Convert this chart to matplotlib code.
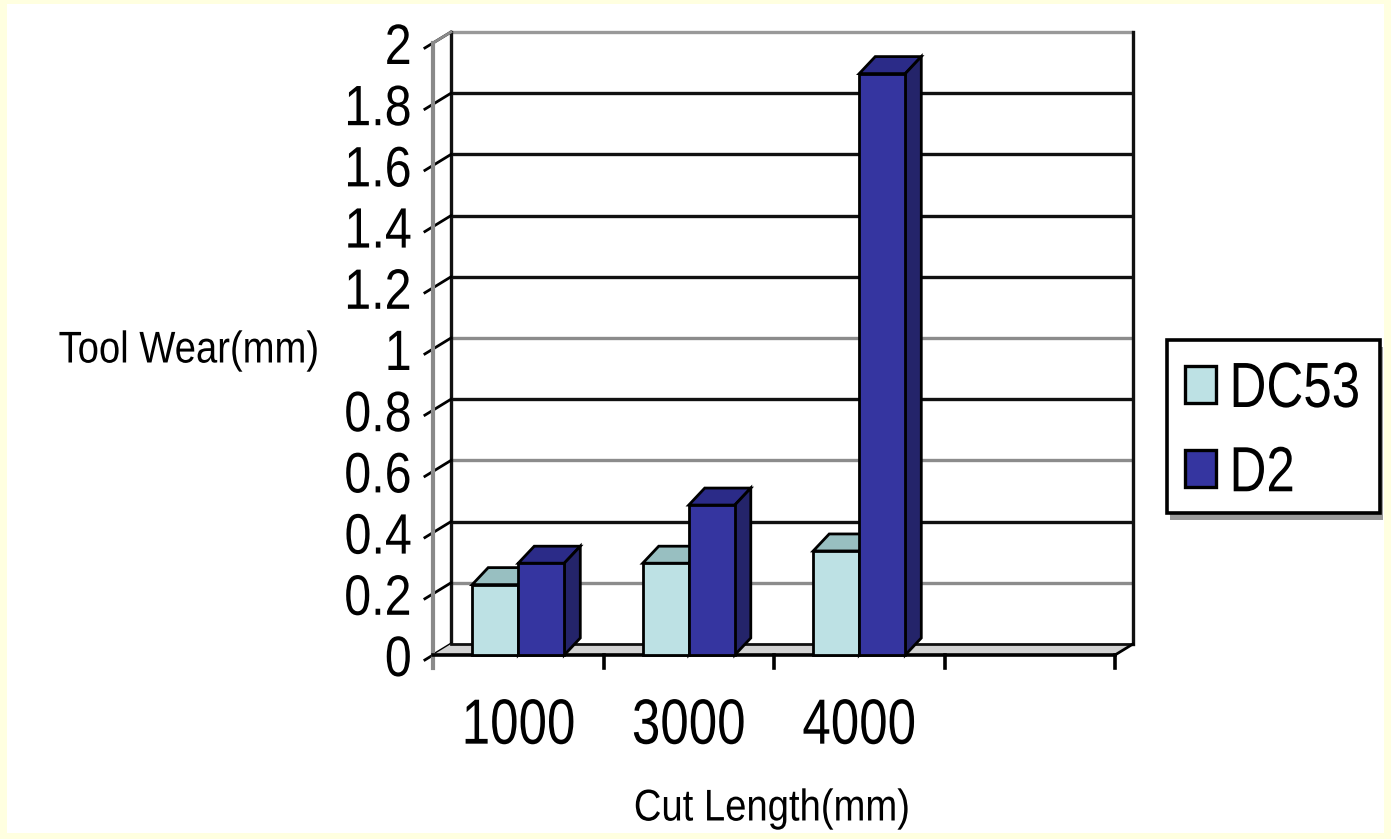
import matplotlib
matplotlib.use("Agg")
import matplotlib.pyplot as plt
from matplotlib.patches import Polygon, Rectangle, Patch
from matplotlib.patheffects import AbstractPathEffect
from matplotlib.transforms import Affine2D
import numpy as np

# data
categories = ["1000", "3000", "4000"]
series_names = ["DC53", "D2"]
dc53_wear = [0.23, 0.30, 0.34]
d2_wear = [0.30, 0.49, 1.90]
y_ticks = [0, 0.2, 0.4, 0.6, 0.8, 1.0, 1.2, 1.4, 1.6, 1.8, 2.0]
y_tick_labels = ["0", "0.2", "0.4", "0.6", "0.8", "1", "1.2", "1.4", "1.6", "1.8", "2"]

# look of the old Excel 3-D column chart
n_slots = 4  # the category axis has an empty fourth slot
grid_colors = ["#8c8c8c", "#111111", "#8c8c8c", "#111111", "#8c8c8c",
               "#111111", "#111111", "#111111", "#111111", "#999999"]
faces = {
    "DC53": ("#bde1e4", "#98bfc1", "#6a9193"),   # front, top, side
    "D2": ("#3535a0", "#2b2b88", "#24246a"),
}

plt.rcParams["font.family"] = ["Liberation Sans", "DejaVu Sans"]


class Squeeze(AbstractPathEffect):
    """Draw text narrower (the reference uses a condensed face)."""

    def __init__(self, sx, anchor="center"):
        super().__init__()
        self._sx = sx
        self._anchor = anchor

    def draw_path(self, renderer, gc, tpath, affine, rgbFace=None):
        ext = tpath.transformed(affine).get_extents()
        x0 = {"left": ext.x0, "right": ext.x1, "center": 0.5 * (ext.x0 + ext.x1)}[self._anchor]
        squeeze = Affine2D().translate(-x0, 0).scale(self._sx, 1).translate(x0, 0)
        renderer.draw_path(gc, tpath, affine + squeeze, rgbFace)


W, H = 1391, 839
fig = plt.figure(figsize=(W / 100, H / 100), dpi=100, facecolor="#ffffe0")
fig.patches.append(Rectangle((7 / W, 6 / H), 1 - 14 / W, 1 - 10 / H, transform=fig.transFigure,
                             facecolor="white", edgecolor="none", zorder=-1))


def fx(px):
    return px / W


def fy(py):
    return 1 - py / H


# axes = front plane of the 3-D box
left, right, bottom, top = 433, 1115, 655, 43
ax = fig.add_axes([left / W, 1 - bottom / H, (right - left) / W, (bottom - top) / H])
ax.set_xlim(0, n_slots)
ax.set_ylim(0, 2)
ax.set_facecolor("none")
for s in ax.spines.values():
    s.set_visible(False)

px_x = (right - left) / n_slots
px_y = (bottom - top) / 2.0
wall_dx, wall_dy = 18 / px_x, 11 / px_y   # depth of the box
bar_dx, bar_dy = 16 / px_x, 17 / px_y     # depth of a column
drop = 13 / px_y

# back wall with gridlines
ax.add_patch(Rectangle((wall_dx, wall_dy), n_slots, 2, facecolor="white", edgecolor="none",
                       clip_on=False, zorder=1))
for v, c in zip(y_ticks[1:], grid_colors):
    ax.plot([wall_dx, n_slots + wall_dx], [v + wall_dy] * 2, color=c, lw=2.4,
            clip_on=False, zorder=2, solid_capstyle="butt")
ax.plot([wall_dx, wall_dx], [wall_dy, 2 + wall_dy], color="#111111", lw=2.4, clip_on=False, zorder=2)
ax.plot([n_slots + wall_dx] * 2, [wall_dy, 2 + wall_dy], color="#111111", lw=2.4, clip_on=False, zorder=2)

# side wall gridlines / ticks
for v in y_ticks:
    ax.plot([-0.45 * wall_dx, wall_dx], [v - 0.45 * wall_dy, v + wall_dy], color="black", lw=2.0,
            clip_on=False, zorder=2)
ax.plot([0, 0], [-drop, 2], color="#8a8a8a", lw=3.0, clip_on=False, zorder=2)
ax.plot([0, wall_dx], [2, 2 + wall_dy], color="#8a8a8a", lw=2.0, clip_on=False, zorder=2)

# floor
ax.add_patch(Polygon([(0, 0), (n_slots, 0), (n_slots + wall_dx, wall_dy), (wall_dx, wall_dy)],
                     closed=True, facecolor="#d2d2d2", edgecolor="none", clip_on=False, zorder=2))
ax.plot([wall_dx, n_slots + wall_dx], [wall_dy, wall_dy], color="#111111", lw=2.0, clip_on=False, zorder=2)
ax.plot([0, n_slots], [0, 0], color="black", lw=2.6, clip_on=False, zorder=2.5)
ax.plot([n_slots, n_slots + wall_dx], [0, wall_dy], color="black", lw=2.0, clip_on=False, zorder=2.5)
for i in range(1, n_slots + 1):
    ax.plot([i, i], [0, -drop], color="black", lw=2.6, clip_on=False, zorder=2.5)

# columns
x = np.arange(len(categories)) + 0.5
width = 0.27
for k, (name, vals) in enumerate(zip(series_names, [dc53_wear, d2_wear])):
    front, top_c, side_c = faces[name]
    xs = x + (k - 0.5) * width
    bars = ax.bar(xs, vals, width=width, color=front, edgecolor="black", lw=2.0,
                  zorder=4 + 2 * k, clip_on=False)
    for b in bars:
        x0, x1, h = b.get_x(), b.get_x() + b.get_width(), b.get_height()
        ax.add_patch(Polygon([(x0, h), (x1, h), (x1 + bar_dx, h + bar_dy), (x0 + bar_dx, h + bar_dy)],
                             closed=True, facecolor=top_c, edgecolor="black", lw=2.0,
                             clip_on=False, zorder=3 + 2 * k))
        ax.add_patch(Polygon([(x1, 0), (x1 + bar_dx, bar_dy), (x1 + bar_dx, h + bar_dy), (x1, h)],
                             closed=True, facecolor=side_c, edgecolor="black", lw=2.0,
                             clip_on=False, zorder=3 + 2 * k))

# ticks and labels
ax.set_yticks(y_ticks, y_tick_labels)
ax.tick_params(axis="y", length=0, pad=15, labelsize=41)
for t in ax.get_yticklabels():
    t.set_path_effects([Squeeze(0.85, "right")])
ax.set_xticks(x, categories)
ax.tick_params(axis="x", length=0, pad=30, labelsize=46)
for t in ax.get_xticklabels():
    t.set_path_effects([Squeeze(0.8, "center")])

ax.set_ylabel("Tool Wear(mm)", rotation=0, fontsize=32, va="center", ha="center",
              path_effects=[Squeeze(0.86, "center")])
ax.yaxis.set_label_coords((189 - left) / (right - left), (bottom - 351) / (bottom - top))
ax.set_xlabel("Cut Length(mm)", fontsize=32, va="center", path_effects=[Squeeze(0.86, "center")])
ax.xaxis.set_label_coords((772 - left) / (right - left), (bottom - 809) / (bottom - top))

# legend: frame with a grey drop shadow, entries squeezed like the reference
fig.add_artist(Rectangle((fx(1170), fy(520)), fx(1383) - fx(1170), fy(347) - fy(520),
                         transform=fig.transFigure, facecolor="#9a9a9a", edgecolor="none"))
fig.add_artist(Rectangle((fx(1167), fy(513)), fx(1380) - fx(1167), fy(340) - fy(513),
                         transform=fig.transFigure, facecolor="white", edgecolor="black", lw=2.6))
handles = [Patch(facecolor=faces[n][0], edgecolor="black", lw=2.4) for n in series_names]
leg = fig.legend(handles, series_names, loc="upper left",
                 bbox_to_anchor=(fx(1185), fy(360)), bbox_transform=fig.transFigure,
                 fontsize=46, frameon=False, borderaxespad=0, borderpad=0,
                 handlelength=0.48, handleheight=0.5, handletextpad=0.2,
                 labelspacing=0.38)
for t in leg.get_texts():
    t.set_path_effects([Squeeze(0.8, "left")])

fig.savefig("out.png", dpi=100, facecolor=fig.get_facecolor())
